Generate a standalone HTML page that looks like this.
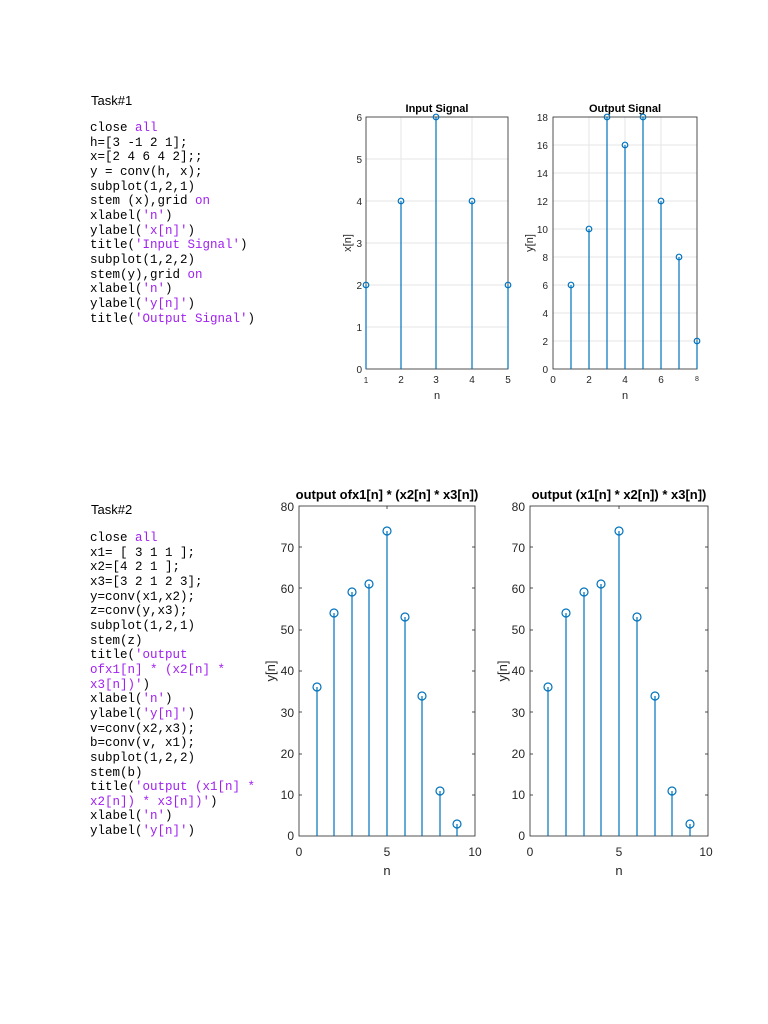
<!DOCTYPE html>
<html><head><meta charset="utf-8"><style>
body{margin:0;background:#fff;width:768px;height:1024px;position:relative;overflow:hidden}
.t{position:absolute;font-family:"Liberation Sans",sans-serif;font-size:13px;color:#000}
pre{position:absolute;margin:0;font-family:"Liberation Mono",monospace;font-size:12.5px;line-height:14.65px;color:#000}
.p{color:#a020f0}
svg{position:absolute;left:0;top:0}
</style></head><body>
<div class="t" style="left:91px;top:93px">Task#1</div>
<pre style="left:90px;top:121px">close <span class="p">all</span>
h=[3 -1 2 1];
x=[2 4 6 4 2];;
y = conv(h, x);
subplot(1,2,1)
stem (x),grid <span class="p">on</span>
xlabel(<span class="p">'n'</span>)
ylabel(<span class="p">'x[n]'</span>)
title(<span class="p">'Input Signal'</span>)
subplot(1,2,2)
stem(y),grid <span class="p">on</span>
xlabel(<span class="p">'n'</span>)
ylabel(<span class="p">'y[n]'</span>)
title(<span class="p">'Output Signal'</span>)</pre>
<div class="t" style="left:91px;top:502px">Task#2</div>
<pre style="left:90px;top:531px">close <span class="p">all</span>
x1= [ 3 1 1 ];
x2=[4 2 1 ];
x3=[3 2 1 2 3];
y=conv(x1,x2);
z=conv(y,x3);
subplot(1,2,1)
stem(z)
title(<span class="p">'output
ofx1[n] * (x2[n] *
x3[n])'</span>)
xlabel(<span class="p">'n'</span>)
ylabel(<span class="p">'y[n]'</span>)
v=conv(x2,x3);
b=conv(v, x1);
subplot(1,2,2)
stem(b)
title(<span class="p">'output (x1[n] *
x2[n]) * x3[n])'</span>)
xlabel(<span class="p">'n'</span>)
ylabel(<span class="p">'y[n]'</span>)</pre>
<svg width="768" height="1024" font-family="Liberation Sans, sans-serif">
<g id="a1">
<g stroke="#e6e6e6" stroke-width="1">
<line x1="366" y1="327" x2="508" y2="327"/><line x1="366" y1="285" x2="508" y2="285"/><line x1="366" y1="243" x2="508" y2="243"/><line x1="366" y1="201" x2="508" y2="201"/><line x1="366" y1="159" x2="508" y2="159"/>
<line x1="401" y1="117" x2="401" y2="369"/><line x1="436" y1="117" x2="436" y2="369"/><line x1="472" y1="117" x2="472" y2="369"/>
</g>
<rect x="366" y="117" width="142" height="252" fill="none" stroke="#262626" stroke-width="0.8"/>
<g fill="#262626" font-size="10" text-anchor="end">
<text x="362" y="373">0</text><text x="362" y="331">1</text><text x="362" y="289">2</text><text x="362" y="247">3</text><text x="362" y="205">4</text><text x="362" y="163">5</text><text x="362" y="121">6</text>
</g>
<g fill="#262626" font-size="10" text-anchor="middle">
<text x="366" y="383" font-size="8">1</text><text x="401" y="383">2</text><text x="436" y="383">3</text><text x="472" y="383">4</text><text x="508" y="383">5</text>
<text x="437" y="399" font-size="11">n</text>
<text x="437" y="112" font-size="11" font-weight="bold" fill="#000">Input Signal</text>
<text transform="translate(351,243) rotate(-90)" font-size="11">x[n]</text>
</g>
<g stroke="#0072bd" stroke-width="1.2" fill="none">
<line x1="366" y1="369" x2="366" y2="285"/><circle cx="366" cy="285" r="2.8"/>
<line x1="401" y1="369" x2="401" y2="201"/><circle cx="401" cy="201" r="2.8"/>
<line x1="436" y1="369" x2="436" y2="117"/><circle cx="436" cy="117" r="2.8"/>
<line x1="472" y1="369" x2="472" y2="201"/><circle cx="472" cy="201" r="2.8"/>
<line x1="508" y1="369" x2="508" y2="285"/><circle cx="508" cy="285" r="2.8"/>
</g>
</g>
<g id="a2">
<g stroke="#e6e6e6" stroke-width="1">
<line x1="553" y1="341" x2="697" y2="341"/><line x1="553" y1="313" x2="697" y2="313"/><line x1="553" y1="285" x2="697" y2="285"/><line x1="553" y1="257" x2="697" y2="257"/><line x1="553" y1="229" x2="697" y2="229"/><line x1="553" y1="201" x2="697" y2="201"/><line x1="553" y1="173" x2="697" y2="173"/><line x1="553" y1="145" x2="697" y2="145"/>
<line x1="589" y1="117" x2="589" y2="369"/><line x1="625" y1="117" x2="625" y2="369"/><line x1="661" y1="117" x2="661" y2="369"/>
</g>
<rect x="553" y="117" width="144" height="252" fill="none" stroke="#262626" stroke-width="0.8"/>
<g fill="#262626" font-size="10" text-anchor="end">
<text x="548" y="373">0</text><text x="548" y="345">2</text><text x="548" y="317">4</text><text x="548" y="289">6</text><text x="548" y="261">8</text><text x="548" y="233">10</text><text x="548" y="205">12</text><text x="548" y="177">14</text><text x="548" y="149">16</text><text x="548" y="121">18</text>
</g>
<g fill="#262626" font-size="10" text-anchor="middle">
<text x="553" y="383">0</text><text x="589" y="383">2</text><text x="625" y="383">4</text><text x="661" y="383">6</text><text x="697" y="381" font-size="7">8</text>
<text x="625" y="399" font-size="11">n</text>
<text x="625" y="112" font-size="11" font-weight="bold" fill="#000">Output Signal</text>
<text transform="translate(533,243) rotate(-90)" font-size="11">y[n]</text>
</g>
<g stroke="#0072bd" stroke-width="1.2" fill="none">
<line x1="571" y1="369" x2="571" y2="285"/><circle cx="571" cy="285" r="2.8"/>
<line x1="589" y1="369" x2="589" y2="229"/><circle cx="589" cy="229" r="2.8"/>
<line x1="607" y1="369" x2="607" y2="117"/><circle cx="607" cy="117" r="2.8"/>
<line x1="625" y1="369" x2="625" y2="145"/><circle cx="625" cy="145" r="2.8"/>
<line x1="643" y1="369" x2="643" y2="117"/><circle cx="643" cy="117" r="2.8"/>
<line x1="661" y1="369" x2="661" y2="201"/><circle cx="661" cy="201" r="2.8"/>
<line x1="679" y1="369" x2="679" y2="257"/><circle cx="679" cy="257" r="2.8"/>
<line x1="697" y1="369" x2="697" y2="341"/><circle cx="697" cy="341" r="2.8"/>
</g>
</g>
<g id="b1">
<rect x="299" y="506" width="176" height="330" fill="none" stroke="#262626" stroke-width="0.8"/>
<g fill="#262626" font-size="12" text-anchor="end">
<text x="294" y="840">0</text><text x="294" y="799">10</text><text x="294" y="758">20</text><text x="294" y="717">30</text><text x="294" y="675">40</text><text x="294" y="634">50</text><text x="294" y="593">60</text><text x="294" y="552">70</text><text x="294" y="511">80</text>
</g>
<g stroke="#262626" stroke-width="0.8">
<line x1="299" y1="795" x2="302" y2="795"/><line x1="299" y1="754" x2="302" y2="754"/><line x1="299" y1="712" x2="302" y2="712"/><line x1="299" y1="671" x2="302" y2="671"/><line x1="299" y1="630" x2="302" y2="630"/><line x1="299" y1="588" x2="302" y2="588"/><line x1="299" y1="547" x2="302" y2="547"/>
<line x1="475" y1="795" x2="472" y2="795"/><line x1="475" y1="754" x2="472" y2="754"/><line x1="475" y1="712" x2="472" y2="712"/><line x1="475" y1="671" x2="472" y2="671"/><line x1="475" y1="630" x2="472" y2="630"/><line x1="475" y1="588" x2="472" y2="588"/><line x1="475" y1="547" x2="472" y2="547"/>
<line x1="387" y1="836" x2="387" y2="833"/><line x1="387" y1="506" x2="387" y2="509"/>
</g>
<g fill="#262626" font-size="12" text-anchor="middle">
<text x="299" y="856">0</text><text x="387" y="856">5</text><text x="475" y="856">10</text>
<text x="387" y="875" font-size="13">n</text>
<text x="387" y="499" font-size="13" font-weight="bold" fill="#000">output ofx1[n] * (x2[n] * x3[n])</text>
<text transform="translate(275,671) rotate(-90)" font-size="13">y[n]</text>
</g>
<g stroke="#0072bd" stroke-width="1.2" fill="none">
<line x1="317" y1="836" x2="317" y2="687"/><circle cx="317" cy="687" r="4"/>
<line x1="334" y1="836" x2="334" y2="613"/><circle cx="334" cy="613" r="4"/>
<line x1="352" y1="836" x2="352" y2="592"/><circle cx="352" cy="592" r="4"/>
<line x1="369" y1="836" x2="369" y2="584"/><circle cx="369" cy="584" r="4"/>
<line x1="387" y1="836" x2="387" y2="531"/><circle cx="387" cy="531" r="4"/>
<line x1="405" y1="836" x2="405" y2="617"/><circle cx="405" cy="617" r="4"/>
<line x1="422" y1="836" x2="422" y2="696"/><circle cx="422" cy="696" r="4"/>
<line x1="440" y1="836" x2="440" y2="791"/><circle cx="440" cy="791" r="4"/>
<line x1="457" y1="836" x2="457" y2="824"/><circle cx="457" cy="824" r="4"/>
</g>
</g>
<g id="b2">
<rect x="530" y="506" width="178" height="330" fill="none" stroke="#262626" stroke-width="0.8"/>
<g fill="#262626" font-size="12" text-anchor="end">
<text x="525" y="840">0</text><text x="525" y="799">10</text><text x="525" y="758">20</text><text x="525" y="717">30</text><text x="525" y="675">40</text><text x="525" y="634">50</text><text x="525" y="593">60</text><text x="525" y="552">70</text><text x="525" y="511">80</text>
</g>
<g stroke="#262626" stroke-width="0.8">
<line x1="530" y1="795" x2="533" y2="795"/><line x1="530" y1="754" x2="533" y2="754"/><line x1="530" y1="712" x2="533" y2="712"/><line x1="530" y1="671" x2="533" y2="671"/><line x1="530" y1="630" x2="533" y2="630"/><line x1="530" y1="588" x2="533" y2="588"/><line x1="530" y1="547" x2="533" y2="547"/>
<line x1="708" y1="795" x2="705" y2="795"/><line x1="708" y1="754" x2="705" y2="754"/><line x1="708" y1="712" x2="705" y2="712"/><line x1="708" y1="671" x2="705" y2="671"/><line x1="708" y1="630" x2="705" y2="630"/><line x1="708" y1="588" x2="705" y2="588"/><line x1="708" y1="547" x2="705" y2="547"/>
<line x1="619" y1="836" x2="619" y2="833"/><line x1="619" y1="506" x2="619" y2="509"/>
</g>
<g fill="#262626" font-size="12" text-anchor="middle">
<text x="530" y="856">0</text><text x="619" y="856">5</text><text x="706" y="856">10</text>
<text x="619" y="875" font-size="13">n</text>
<text x="619" y="499" font-size="13" font-weight="bold" fill="#000">output (x1[n] * x2[n]) * x3[n])</text>
<text transform="translate(507,671) rotate(-90)" font-size="13">y[n]</text>
</g>
<g stroke="#0072bd" stroke-width="1.2" fill="none">
<line x1="548" y1="836" x2="548" y2="687"/><circle cx="548" cy="687" r="4"/>
<line x1="566" y1="836" x2="566" y2="613"/><circle cx="566" cy="613" r="4"/>
<line x1="584" y1="836" x2="584" y2="592"/><circle cx="584" cy="592" r="4"/>
<line x1="601" y1="836" x2="601" y2="584"/><circle cx="601" cy="584" r="4"/>
<line x1="619" y1="836" x2="619" y2="531"/><circle cx="619" cy="531" r="4"/>
<line x1="637" y1="836" x2="637" y2="617"/><circle cx="637" cy="617" r="4"/>
<line x1="655" y1="836" x2="655" y2="696"/><circle cx="655" cy="696" r="4"/>
<line x1="672" y1="836" x2="672" y2="791"/><circle cx="672" cy="791" r="4"/>
<line x1="690" y1="836" x2="690" y2="824"/><circle cx="690" cy="824" r="4"/>
</g>
</g>
</svg>
</body></html>
